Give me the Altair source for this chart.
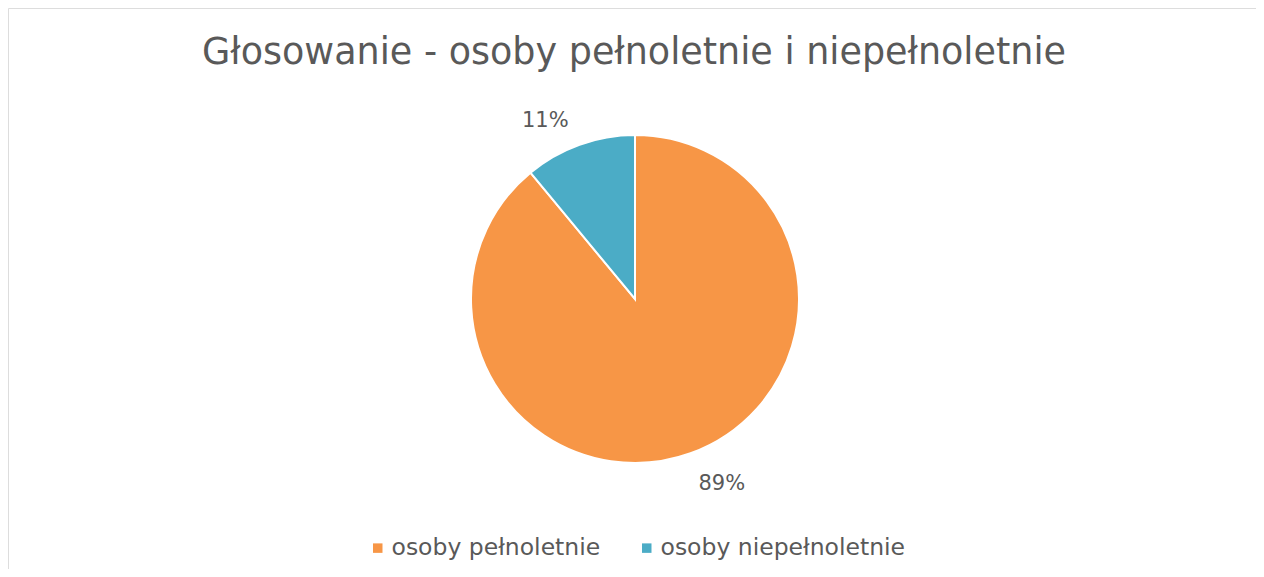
import altair as alt
import pandas as pd

categories = ["osoby pełnoletnie", "osoby niepełnoletnie"]
shares = [89, 11]
labels = ["89%", "11%"]
order_idx = [0, 1]
colors = ["#F79646", "#4BACC6"]
title_text = "Głosowanie - osoby pełnoletnie i niepełnoletnie"

df = pd.DataFrame({"kategoria": categories, "udzial": shares, "etykieta": labels, "kolejnosc": order_idx})

FONT = "DejaVu Sans"
TXT = "#595959"
W, H = 1248, 561
CX, CY, R = 627, 291, 164

color_scale = alt.Scale(domain=categories, range=colors)

base = alt.Chart(df)

pie = base.mark_arc(outerRadius=R, stroke="white", strokeWidth=2).encode(
    theta=alt.Theta("udzial:Q", stack=True),
    order=alt.Order("kolejnosc:Q"),
    color=alt.Color(
        "kategoria:N",
        scale=color_scale,
        sort=categories,
        legend=alt.Legend(
            title=None,
            orient="none",
            direction="horizontal",
            legendX=358,
            legendY=528,
            symbolType="square",
            symbolSize=90,
            symbolStrokeWidth=0,
            labelFont=FONT,
            labelFontSize=23.5,
            labelColor=TXT,
            labelOffset=2,
            labelLimit=0,
            columnPadding=34,
            padding=0,
        ),
    ),
    x=alt.value(CX),
    y=alt.value(CY),
)

def label_layer(lbl, dx, dy):
    return base.transform_stack(
        stack="udzial", groupby=[], as_=["s0", "s1"], sort=[alt.SortField("kolejnosc")]
    ).transform_calculate(
        mid="(datum.s0 + datum.s1) / 2"
    ).transform_filter(
        alt.datum.etykieta == lbl
    ).mark_text(
        radius=200, font=FONT, fontSize=21, color=TXT, align="center", baseline="middle", dx=dx, dy=dy
    ).encode(
        theta=alt.Theta("mid:Q", stack=None),
        text="etykieta:N",
        x=alt.value(CX),
        y=alt.value(CY),
    )

lab89 = label_layer("89%", 19, -3)
lab11 = label_layer("11%", -22, 10)

title = alt.Chart(pd.DataFrame({"t": [title_text]})).mark_text(
    font=FONT, fontSize=36.5, color=TXT, align="center", baseline="alphabetic"
).encode(text="t:N", x=alt.value(626), y=alt.value(56))

chart = alt.layer(pie, lab89, lab11, title).properties(
    width=W, height=H, padding=0, autosize=alt.AutoSizeParams(type="none")
).configure_view(stroke="#d9d9d9", strokeWidth=2).configure(background="white")

chart.save("out.html", embed_options={"renderer": "svg", "actions": False})
